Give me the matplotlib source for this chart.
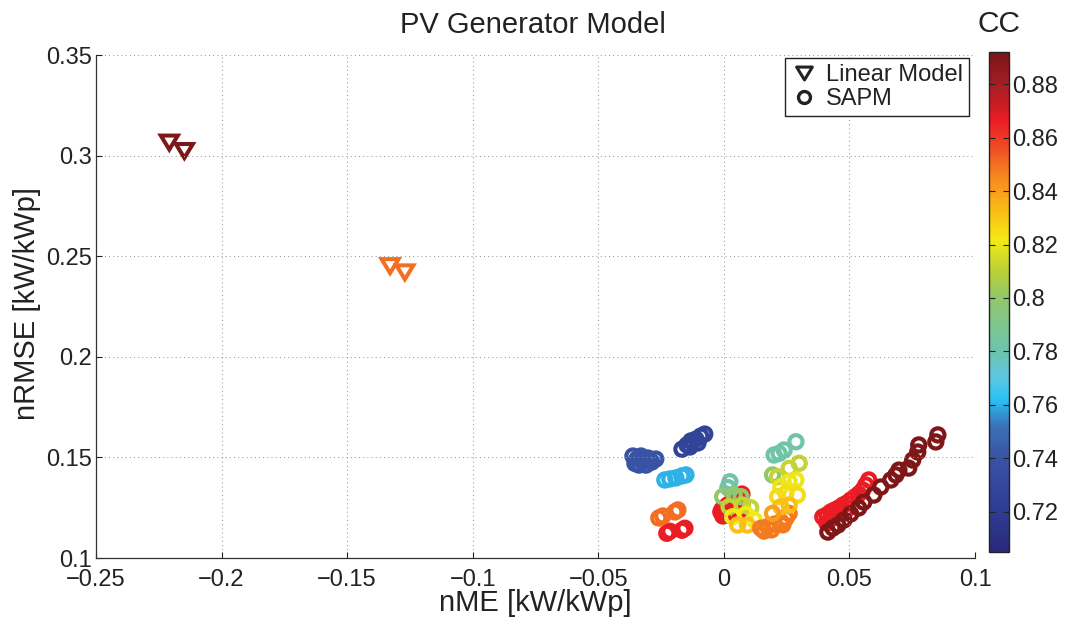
import matplotlib
matplotlib.use('Agg')
import matplotlib.pyplot as plt
import numpy as np
from matplotlib.colors import LinearSegmentedColormap, Normalize
from matplotlib.lines import Line2D
from matplotlib.path import Path
from matplotlib.ticker import FuncFormatter

plt.rcParams['font.family'] = ['Liberation Sans', 'DejaVu Sans']

# Linear model results (nME, nRMSE, correlation coefficient)
lin_nme = [-0.2208, -0.2148, -0.1329, -0.1270]
lin_nrmse = [0.3065, 0.3023, 0.2451, 0.2420]
lin_cc = [0.890, 0.890, 0.850, 0.850]

# SAPM results, one group per site / configuration
sapm_nme = [
    # red, right branch
    0.0394, 0.0410, 0.0426, 0.0442, 0.0458, 0.0474, 0.0490, 0.0505, 0.0521, 0.0537,
    0.0553, 0.0565, 0.0577, 0.0434, 0.0482, 0.0410,
    # red, centre
    -0.0012, 0.0004, 0.0020, 0.0040, 0.0060, 0.0072, -0.0004, 0.0048,
    -0.0008, 0.0012, 0.0030, 0.0055, 0.0065, 0.0015,
    # red, left
    -0.0227, -0.0215, -0.0167, -0.0155,
    # dark red, right branch
    0.0414, 0.0434, 0.0454, 0.0478, 0.0505, 0.0537, 0.0557, 0.0597, 0.0625, 0.0665,
    0.0685, 0.0697, 0.0736, 0.0752, 0.0772, 0.0776, 0.0844, 0.0852,
    # navy
    -0.0167, -0.0147, -0.0131, -0.0111, -0.0092, -0.0076, -0.0135, -0.0103,
    # blue
    -0.0362, -0.0346, -0.0330, -0.0318, -0.0302, -0.0287, -0.0271, -0.0338, -0.0310,
    -0.0354, -0.0326, -0.0294,
    # light blue
    -0.0235, -0.0215, -0.0191, -0.0167, -0.0151,
    # orange, left
    -0.0259, -0.0243, -0.0195, -0.0183,
    # centre cluster
    0.0024, 0.0016, -0.0005, 0.0041, 0.0068, 0.0021, 0.0074, 0.0107,
    0.0035, 0.0088, 0.0121, 0.0055, 0.0094,
    # orange, centre-right
    0.0147, 0.0174, 0.0200, 0.0227, 0.0247, 0.0260, 0.0160, 0.0190, 0.0235,
    # right column
    0.0200, 0.0220, 0.0240, 0.0287, 0.0194, 0.0214, 0.0260, 0.0300,
    0.0227, 0.0260, 0.0287, 0.0214, 0.0247, 0.0293, 0.0227, 0.0260, 0.0194,
]
sapm_nrmse = [
    0.1204, 0.1214, 0.1229, 0.1239, 0.1249, 0.1263, 0.1273, 0.1288, 0.1303, 0.1318,
    0.1338, 0.1363, 0.1388, 0.1199, 0.1229, 0.1174,
    0.1229, 0.1249, 0.1268, 0.1288, 0.1303, 0.1318, 0.1209, 0.1258,
    0.1240, 0.1260, 0.1225, 0.1280, 0.1240, 0.1215,
    0.1123, 0.1133, 0.1138, 0.1148,
    0.1129, 0.1149, 0.1164, 0.1189, 0.1219, 0.1249, 0.1278, 0.1313, 0.1353, 0.1388,
    0.1413, 0.1437, 0.1447, 0.1487, 0.1527, 0.1562, 0.1577, 0.1612,
    0.1541, 0.1562, 0.1582, 0.1591, 0.1606, 0.1616, 0.1552, 0.1572,
    0.1507, 0.1492, 0.1507, 0.1482, 0.1497, 0.1477, 0.1492, 0.1462, 0.1462,
    0.1470, 0.1495, 0.1485,
    0.1388, 0.1393, 0.1398, 0.1408, 0.1413,
    0.1199, 0.1209, 0.1229, 0.1239,
    0.1379, 0.1350, 0.1305, 0.1313, 0.1305, 0.1255, 0.1263, 0.1250,
    0.1205, 0.1217, 0.1189, 0.1164, 0.1164,
    0.1148, 0.1156, 0.1168, 0.1181, 0.1197, 0.1222, 0.1134, 0.1140, 0.1165,
    0.1512, 0.1520, 0.1537, 0.1578, 0.1413, 0.1404, 0.1446, 0.1471,
    0.1354, 0.1379, 0.1388, 0.1305, 0.1322, 0.1313, 0.1255, 0.1263, 0.1222,
]
sapm_cc = (
    [0.866] * 16 + [0.866] * 14 + [0.866] * 4 + [0.890] * 18
    + [0.727] * 8 + [0.740] * 12 + [0.760] * 5 + [0.850] * 4
    + [0.782, 0.782, 0.800, 0.800, 0.800, 0.812, 0.812, 0.812,
       0.822, 0.822, 0.822, 0.832, 0.832]
    + [0.848] * 9
    + [0.782, 0.782, 0.782, 0.782, 0.800, 0.812, 0.812, 0.812,
       0.820, 0.820, 0.820, 0.825, 0.825, 0.825, 0.832, 0.832, 0.840]
)

cc_min, cc_max = 0.705, 0.892

# jet-like map with the darker blue end
anchors = [
    (0.705, '#2a2a7c'), (0.720, '#2f3c92'), (0.740, '#3853a4'), (0.752, '#3b72b8'),
    (0.762, '#29c1f2'), (0.770, '#5ec7e0'), (0.780, '#6cc5b0'), (0.800, '#93c76a'),
    (0.810, '#b8d03a'), (0.822, '#f5ea14'), (0.835, '#fbb316'), (0.845, '#f68b1f'),
    (0.855, '#f05423'), (0.866, '#ed1c24'), (0.880, '#a51e23'), (0.892, '#7a1517'),
]
cmap = LinearSegmentedColormap.from_list(
    'cc', [((v - cc_min) / (cc_max - cc_min), c) for v, c in anchors])
norm = Normalize(vmin=cc_min, vmax=cc_max)

# downward triangle, closed so the stroke joins at every corner
tri = Path([(-1, 0.82), (1, 0.82), (0, -0.82), (-1, 0.82)],
           [Path.MOVETO, Path.LINETO, Path.LINETO, Path.CLOSEPOLY])

fig = plt.figure(figsize=(10.65, 6.19), dpi=100)
ax = fig.add_axes([0.0901, 0.0985, 0.8254, 0.8126])
cax = fig.add_axes([0.9286, 0.1082, 0.0188, 0.8078])

lin_sc = ax.scatter(lin_nme, lin_nrmse, marker=tri, s=150, linewidths=2.9)
lin_sc.set_facecolor('none')
lin_sc.set_edgecolor(cmap(norm(np.array(lin_cc))))
lin_sc.set_joinstyle('miter')

sc = ax.scatter(sapm_nme, sapm_nrmse, c=sapm_cc, cmap=cmap, norm=norm, marker='o', s=90,
                linewidths=3.0)
sc.set_facecolor('none')
sc.set_edgecolor(cmap(norm(np.array(sapm_cc))))

ax.set_xlim(-0.25, 0.1)
ax.set_ylim(0.1, 0.35)
ax.set_xticks([-0.25, -0.2, -0.15, -0.1, -0.05, 0, 0.05, 0.1])
ax.set_yticks([0.1, 0.15, 0.2, 0.25, 0.3, 0.35])
fmt = FuncFormatter(lambda v, p: ('%g' % round(v, 4)).replace('-', '\u2212'))
ax.xaxis.set_major_formatter(fmt)
ax.yaxis.set_major_formatter(fmt)
ax.tick_params(direction='in', length=4, width=0.8, labelsize=17, colors='#222222')
ax.tick_params(axis='x', pad=8)
ax.tick_params(axis='y', pad=3)
ax.grid(True, color='#999999', linestyle=(0, (1, 3)), linewidth=0.75)
for side in ['top', 'right']:
    ax.spines[side].set_visible(False)
for side in ['left', 'bottom']:
    ax.spines[side].set_color('#333333')
    ax.spines[side].set_linewidth(0.9)

ax.set_xlabel('nME [kW/kWp]', fontsize=21, color='#222222')
ax.set_ylabel('nRMSE [kW/kWp]', fontsize=21, color='#222222')
ax.xaxis.set_label_coords(0.5, -0.062)
ax.yaxis.set_label_coords(-0.062, 0.506)

fig.text(0.5008, 0.9462, 'PV Generator Model', fontsize=21, ha='center', va='baseline',
         color='#222222')
fig.text(0.9377, 0.9483, 'CC', fontsize=21.5, ha='center', va='baseline', color='#222222')

handles = [
    Line2D([], [], linestyle='none', marker=tri, markersize=11.3, markerfacecolor='none',
           markeredgecolor='#222222', markeredgewidth=2.2),
    Line2D([], [], linestyle='none', marker='o', markersize=8.6, markerfacecolor='none',
           markeredgecolor='#222222', markeredgewidth=2.4),
]
leg = ax.legend(handles, ['Linear Model', 'SAPM'], loc='upper right',
                bbox_to_anchor=(0.9932, 0.994), fontsize=17, frameon=True, fancybox=False,
                edgecolor='#222222', framealpha=1, borderpad=0.25, labelspacing=0.1,
                handlelength=1.1, handletextpad=0.4, borderaxespad=0)
leg.get_frame().set_linewidth(1.0)
for t in leg.get_texts():
    t.set_color('#222222')

cbar = fig.colorbar(sc, cax=cax)
cbar.set_ticks([0.72, 0.74, 0.76, 0.78, 0.8, 0.82, 0.84, 0.86, 0.88])
cbar.ax.yaxis.set_major_formatter(FuncFormatter(lambda v, p: '%g' % round(v, 4)))
cbar.ax.tick_params(direction='in', left=True, right=True, length=4, width=0.8,
                    labelsize=17, colors='#222222', pad=2)
cbar.outline.set_linewidth(1.0)
cbar.outline.set_edgecolor('#222222')

fig.savefig('out.png', dpi=100)
